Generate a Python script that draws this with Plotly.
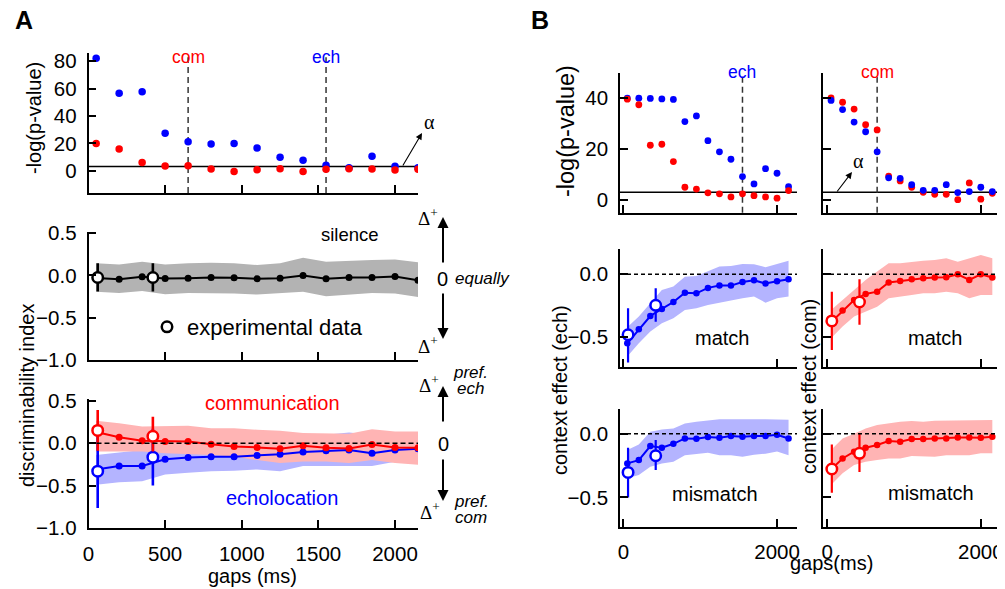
import plotly.graph_objects as go

W, H = 997, 581          # figure size (page body adds an 8px margin)
OFF = 8
def P(px): return (px - OFF) / W
def Q(py): return 1 - (py - OFF) / H

# ---------------- data ----------------
gaps = [50, 200, 350, 500, 650, 800, 950, 1100, 1250, 1400, 1550, 1700, 1850, 2000, 2150]
exp_gaps = [60, 420]
alpha_level = 3
thr_com_A, thr_ech_A = 650, 1550
thr_ech_B, thr_com_B = 1550, 650

# Panel A top: -log(p-value)
pA_ech = [82.2, 56.6, 57.6, 27.3, 21.2, 19.5, 19.8, 16.6, 9.8, 7.6, 3.9, 2.2, 10.5, 3.2, 2.2]
pA_com = [19.8, 15.9, 5.9, 3.4, 3.7, 1.2, -0.5, 0.7, 1.5, -0.5, 1.0, 1.5, 1.2, 0.5, 1.0]

# Panel A middle: silence
sil_model = [-0.03, -0.044, -0.016, -0.036, -0.032, -0.024, -0.028, -0.04, -0.032, 0.0, -0.04, -0.024, -0.024, -0.012, -0.056]
sil_hi = [0.143, 0.131, 0.163, 0.131, 0.143, 0.151, 0.143, 0.123, 0.143, 0.21, 0.163, 0.175, 0.183, 0.19, 0.155]
sil_lo = [-0.194, -0.206, -0.183, -0.222, -0.206, -0.206, -0.214, -0.226, -0.206, -0.194, -0.246, -0.222, -0.206, -0.214, -0.254]
sil_exp = [-0.024, -0.024]
sil_exp_hi = [0.143, 0.143]
sil_exp_lo = [-0.19, -0.19]

# Panel A bottom: communication / echolocation
com_model = [0.13, 0.07, 0.027, 0.02, 0.02, -0.012, -0.04, -0.05, -0.067, -0.03, -0.055, -0.063, -0.016, -0.05, -0.055]
com_hi = [0.263, 0.235, 0.196, 0.196, 0.204, 0.176, 0.176, 0.157, 0.145, 0.118, 0.11, 0.11, 0.165, 0.137, 0.137]
com_lo = [-0.1, -0.1, -0.1, -0.12, -0.13, -0.14, -0.157, -0.2, -0.235, -0.216, -0.216, -0.235, -0.2, -0.235, -0.255]
ech_model = [-0.31, -0.27, -0.27, -0.19, -0.17, -0.16, -0.16, -0.145, -0.13, -0.105, -0.09, -0.08, -0.12, -0.08, -0.067]
ech_hi = [-0.14, -0.11, -0.08, -0.05, -0.03, -0.02, 0.0, 0.02, 0.05, 0.08, 0.1, 0.125, 0.1, 0.1, 0.1]
ech_lo = [-0.49, -0.46, -0.45, -0.37, -0.35, -0.33, -0.325, -0.31, -0.33, -0.27, -0.27, -0.27, -0.27, -0.22, -0.2]
com_exp = [0.15, 0.08]
com_exp_hi = [0.39, 0.31]
com_exp_lo = [-0.09, -0.1]
ech_exp = [-0.33, -0.165]
ech_exp_hi = [0.105, 0.17]
ech_exp_lo = [-0.765, -0.5]

# Panel B top: -log(p-value)
pB_ech_L = [40, 40, 39.9, 39.7, 39.5, 30.8, 33, 23.3, 18.9, 16, 9.2, 6.3, 12.3, 10.5, 5.2]
pB_com_L = [39.6, 37.4, 21.5, 21.9, 15.1, 5.0, 4.3, 2.8, 2.4, 1.2, 2.4, 1.7, 1.2, 0.7, 3.7]
pB_ech_R = [39.1, 35.5, 30.6, 26.8, 18.9, 8.7, 8.5, 6.0, 3.8, 3.8, 6.0, 2.9, 3.3, 5.0, 3.3]
pB_com_R = [40.1, 38.4, 35.7, 29.6, 27.5, 9.4, 7.5, 5.0, 3.0, 2.2, 2.2, 0.1, 6.7, 0.3, 2.6]

# Panel B match
ech_match = [-0.548, -0.437, -0.331, -0.275, -0.22, -0.146, -0.151, -0.108, -0.09, -0.09, -0.061, -0.048, -0.074, -0.056, -0.04]
ech_match_hi = [-0.42, -0.336, -0.23, -0.124, -0.098, -0.019, -0.013, 0.021, 0.061, 0.066, 0.082, 0.079, 0.056, 0.082, 0.108]
ech_match_lo = [-0.653, -0.548, -0.455, -0.389, -0.349, -0.283, -0.27, -0.243, -0.23, -0.209, -0.19, -0.177, -0.225, -0.19, -0.177]
ech_match_exp = [-0.48, -0.246]
ech_match_exp_hi = [-0.27, -0.11]
ech_match_exp_lo = [-0.70, -0.376]

com_match = [-0.38, -0.288, -0.204, -0.156, -0.138, -0.066, -0.053, -0.04, -0.032, -0.026, -0.024, 0.0, -0.045, 0.0, -0.026]
com_match_hi = [-0.283, -0.204, -0.124, -0.045, 0.021, 0.087, 0.087, 0.1, 0.108, 0.114, 0.127, 0.1, 0.127, 0.153, 0.127]
com_match_lo = [-0.508, -0.415, -0.336, -0.296, -0.257, -0.19, -0.177, -0.164, -0.151, -0.151, -0.138, -0.151, -0.19, -0.164, -0.164]
com_match_exp = [-0.37, -0.22]
com_match_exp_hi = [-0.138, -0.04]
com_match_exp_lo = [-0.60, -0.40]

# Panel B mismatch
ech_mis = [-0.233, -0.207, -0.097, -0.11, -0.079, -0.037, -0.039, -0.026, -0.031, -0.018, -0.024, -0.018, -0.018, -0.008, -0.037]
ech_mis_hi = [-0.128, -0.084, 0.016, 0.034, 0.042, 0.081, 0.094, 0.102, 0.113, 0.113, 0.115, 0.113, 0.113, 0.113, 0.11]
ech_mis_lo = [-0.35, -0.325, -0.26, -0.233, -0.22, -0.168, -0.16, -0.15, -0.168, -0.168, -0.18, -0.165, -0.157, -0.14, -0.168]
ech_mis_exp = [-0.304, -0.173]
ech_mis_exp_hi = [-0.11, -0.05]
ech_mis_exp_lo = [-0.5, -0.285]

com_mis = [-0.28, -0.194, -0.141, -0.11, -0.089, -0.058, -0.063, -0.042, -0.042, -0.037, -0.037, -0.029, -0.029, -0.031, -0.024]
com_mis_hi = [-0.128, -0.037, 0.0, 0.042, 0.068, 0.081, 0.094, 0.1, 0.094, 0.102, 0.102, 0.107, 0.102, 0.107, 0.107]
com_mis_lo = [-0.403, -0.31, -0.246, -0.22, -0.207, -0.194, -0.194, -0.175, -0.175, -0.18, -0.168, -0.168, -0.168, -0.154, -0.154]
com_mis_exp = [-0.277, -0.154]
com_mis_exp_hi = [-0.084, 0.0]
com_mis_exp_lo = [-0.463, -0.3]

# ---------------- style ----------------
RED, BLUE, BLACK = '#ff0000', '#0000ff', '#000000'
PINK, LAV, GRAY = '#ffb4b4', '#b4b4ff', '#b3b3b3'
FONT = 'Liberation Sans, Arial, sans-serif'
SERIF = 'Liberation Serif, Times New Roman, serif'
TICK = 20.5

fig = go.Figure()

def band(x, hi, lo, color, xa, ya):
    fig.add_trace(go.Scatter(x=x + x[::-1], y=hi + lo[::-1], fill='toself', fillcolor=color,
                             line=dict(width=0, color=color), mode='lines', hoverinfo='skip',
                             showlegend=False, xaxis=xa, yaxis=ya))

def model(x, y, color, xa, ya, ms=7, lw=2):
    fig.add_trace(go.Scatter(x=x, y=y, mode='lines+markers', line=dict(color=color, width=lw),
                             marker=dict(size=ms, color=color), showlegend=False, xaxis=xa, yaxis=ya))

def expt(x, y, hi, lo, color, xa, ya, thick=2.6, name=None, leg=False):
    fig.add_trace(go.Scatter(x=x, y=y, mode='markers', name=name, showlegend=leg,
                             marker=dict(size=10.5, color='white', line=dict(color=color, width=2.5)),
                             error_y=dict(type='data', symmetric=False,
                                          array=[h - v for h, v in zip(hi, y)],
                                          arrayminus=[v - l for l, v in zip(lo, y)],
                                          color=color, thickness=thick, width=0),
                             xaxis=xa, yaxis=ya))

def pts(x, y, color, xa, ya, ms=7):
    fig.add_trace(go.Scatter(x=x, y=y, mode='markers', marker=dict(size=ms, color=color),
                             showlegend=False, xaxis=xa, yaxis=ya))

# A top
pts(gaps, pA_ech, BLUE, 'x', 'y', 7.5)
pts(gaps, pA_com, RED, 'x', 'y', 7.5)
# A middle
band(gaps, sil_hi, sil_lo, GRAY, 'x2', 'y2')
model(gaps, sil_model, BLACK, 'x2', 'y2')
expt(exp_gaps, sil_exp, sil_exp_hi, sil_exp_lo, BLACK, 'x2', 'y2', name='experimental data', leg=True)
# A bottom
band(gaps, ech_hi, ech_lo, LAV, 'x3', 'y3')
band(gaps, com_hi, com_lo, PINK, 'x3', 'y3')
model(gaps, ech_model, BLUE, 'x3', 'y3')
model(gaps, com_model, RED, 'x3', 'y3')
expt(exp_gaps, ech_exp, ech_exp_hi, ech_exp_lo, BLUE, 'x3', 'y3')
expt(exp_gaps, com_exp, com_exp_hi, com_exp_lo, RED, 'x3', 'y3')
# B top
pts(gaps, pB_ech_L, BLUE, 'x4', 'y4', 6.8)
pts(gaps, pB_com_L, RED, 'x4', 'y4', 6.8)
pts(gaps, pB_com_R, RED, 'x5', 'y5', 6.8)
pts(gaps, pB_ech_R, BLUE, 'x5', 'y5', 6.8)
# B match
band(gaps, ech_match_hi, ech_match_lo, LAV, 'x6', 'y6')
model(gaps, ech_match, BLUE, 'x6', 'y6', 6.5)
expt(exp_gaps, ech_match_exp, ech_match_exp_hi, ech_match_exp_lo, BLUE, 'x6', 'y6', 2.2)
band(gaps, com_match_hi, com_match_lo, PINK, 'x7', 'y7')
model(gaps, com_match, RED, 'x7', 'y7', 6.5)
expt(exp_gaps, com_match_exp, com_match_exp_hi, com_match_exp_lo, RED, 'x7', 'y7', 2.2)
# B mismatch
band(gaps, ech_mis_hi, ech_mis_lo, LAV, 'x8', 'y8')
model(gaps, ech_mis, BLUE, 'x8', 'y8', 6.5)
expt(exp_gaps, ech_mis_exp, ech_mis_exp_hi, ech_mis_exp_lo, BLUE, 'x8', 'y8', 2.2)
band(gaps, com_mis_hi, com_mis_lo, PINK, 'x9', 'y9')
model(gaps, com_mis, RED, 'x9', 'y9', 6.5)
expt(exp_gaps, com_mis_exp, com_mis_exp_hi, com_mis_exp_lo, RED, 'x9', 'y9', 2.2)

# ---------------- axes ----------------
def axis(domain, rng, anchor, tickvals, labels=True, fmt=None, standoff=6):
    d = dict(domain=domain, range=rng, anchor=anchor, showline=True, linecolor='black', linewidth=1.7,
             ticks='inside', ticklen=8, tickwidth=1.7, tickcolor='black', showgrid=False, zeroline=False,
             tickvals=tickvals, showticklabels=labels, tickfont=dict(family=FONT, size=TICK, color='black'),
             ticklabelstandoff=standoff, fixedrange=True)
    if fmt:
        d['tickformat'] = fmt
    return d

xA = [P(88.5), P(418)]
xBL = [P(620), P(797)]
xBR = [P(823), P(1000)]
rA = [0, 2150]
rBL = [-45, 2260]
rBR = [-55, 2250]

lay = {}
lay['xaxis'] = axis(xA, rA, 'y', [500, 1000, 1500, 2000], False)
lay['yaxis'] = axis([Q(193), Q(53)], [-16.3, 86], 'x', [0, 20, 40, 60, 80])
lay['xaxis2'] = axis(xA, rA, 'y2', [500, 1000, 1500, 2000], False)
lay['yaxis2'] = axis([Q(360), Q(231.5)], [-1.0, 0.52], 'x2', [-1, -0.5, 0, 0.5], fmt='.1f')
lay['xaxis3'] = axis(xA, rA, 'y3', [0, 500, 1000, 1500, 2000], True, standoff=7)
lay['yaxis3'] = axis([Q(528), Q(399)], [-1.0, 0.52], 'x3', [-1, -0.5, 0, 0.5], fmt='.1f')
lay['xaxis4'] = axis(xBL, rBL, 'y4', [0, 2000], False)
lay['yaxis4'] = axis([Q(212.7), Q(72.7)], [-5, 50], 'x4', [0, 20, 40])
lay['xaxis5'] = axis(xBR, rBR, 'y5', [0, 2000], False)
lay['yaxis5'] = axis([Q(212.7), Q(72.7)], [-5, 50], 'x5', [0, 20, 40], False)
lay['xaxis6'] = axis(xBL, rBL, 'y6', [0, 2000], False)
lay['yaxis6'] = axis([Q(367.3), Q(249.3)], [-0.738, 0.198], 'x6', [-0.5, 0], fmt='.1f')
lay['xaxis7'] = axis(xBR, rBR, 'y7', [0, 2000], False)
lay['yaxis7'] = axis([Q(367.3), Q(249.3)], [-0.738, 0.198], 'x7', [-0.5, 0], False)
lay['xaxis8'] = axis(xBL, rBL, 'y8', [0, 2000], True, standoff=5)
lay['yaxis8'] = axis([Q(527.3), Q(409.3)], [-0.735, 0.192], 'x8', [-0.5, 0], fmt='.1f')
lay['xaxis9'] = axis(xBR, rBR, 'y9', [0, 2000], True, standoff=5)
lay['yaxis9'] = axis([Q(527.3), Q(409.3)], [-0.735, 0.192], 'x9', [-0.5, 0], False)

# ---------------- shapes ----------------
shapes = []
def hline(xa, ya, y, dash='solid', width=1.5, layer='below'):
    shapes.append(dict(type='line', xref=f'{xa} domain', yref=ya, x0=0, x1=1, y0=y, y1=y,
                       line=dict(color='black', width=width, dash=dash), layer=layer))
def vline(xa, ya, x, y1=1.0):
    shapes.append(dict(type='line', xref=xa, yref=f'{ya} domain', x0=x, x1=x, y0=0, y1=y1,
                       line=dict(color='#333333', width=1.5, dash='6px,4px'), layer='below'))

hline('x', 'y', alpha_level)
vline('x', 'y', thr_com_A, 0.97)
vline('x', 'y', thr_ech_A, 0.97)
hline('x3', 'y3', 0, dash='5px,3px', width=1.5, layer='above')
hline('x4', 'y4', alpha_level)
hline('x5', 'y5', alpha_level)
vline('x4', 'y4', thr_ech_B)
vline('x5', 'y5', thr_com_B)
for a in ['6', '7', '8', '9']:
    hline('x' + a, 'y' + a, 0, dash='4px,3px', width=1.3, layer='above')

# ---------------- annotations ----------------
anns = []
def txt(text, px, py, size=20, color='black', italic=False, bold=False, family=FONT, angle=0,
        xanchor='center', yanchor='middle'):
    t = text
    if italic:
        t = f'<i>{t}</i>'
    if bold:
        t = f'<b>{t}</b>'
    anns.append(dict(text=t, x=P(px), y=Q(py), xref='paper', yref='paper', showarrow=False,
                     font=dict(family=family, size=size, color=color), textangle=angle,
                     xanchor=xanchor, yanchor=yanchor))

def arrow(hx, hy, tx, ty, width=2, head=2, size=1.1):
    anns.append(dict(text='', x=P(hx), y=Q(hy), xref='paper', yref='paper', showarrow=True,
                     ax=tx - hx, ay=ty - hy, axref='pixel', ayref='pixel', arrowhead=head,
                     arrowsize=size, arrowwidth=width, arrowcolor='black', standoff=0, startstandoff=0))

txt('A', 24, 20, 25, bold=True)
txt('B', 540, 20, 25, bold=True)
# A top
anns.append(dict(text='com', x=thr_com_A, y=Q(45), xref='x', yref='paper', showarrow=False,
                 font=dict(family=FONT, size=17.5, color=RED)))
anns.append(dict(text='ech', x=thr_ech_A, y=Q(45), xref='x', yref='paper', showarrow=False,
                 font=dict(family=FONT, size=17.5, color=BLUE)))
arrow(422, 133, 402, 167, width=1.1, head=2, size=1.2)
txt('α', 429, 122, 20, family=SERIF)
txt('-log(p-value)', 34, 118, 20, angle=-90)
# A middle
txt('silence', 350, 235, 18.5)
txt('Δ<sup>+</sup>', 428, 217, 19, family=SERIF)
txt('Δ<sup>+</sup>', 428, 345, 19, family=SERIF)
arrow(443, 217, 443, 264)
arrow(443, 339, 443, 292)
txt('0', 442, 279, 20)
txt('equally', 482, 278, 17, italic=True)
txt('discriminability index', 27, 396, 20, angle=-90)
# A bottom
txt('communication', 272, 403, 20, RED)
txt('echolocation', 282, 498, 20, BLUE)
txt('gaps (ms)', 252, 576, 20)
txt('Δ<sup>+</sup>', 429, 384, 19, family=SERIF)
txt('Δ<sup>+</sup>', 430, 511, 19, family=SERIF)
arrow(443, 386, 443, 423)
arrow(443, 501, 443, 458)
txt('0', 443, 444, 20)
txt('pref.', 470, 372, 17, italic=True)
txt('ech', 470, 388, 17, italic=True)
txt('pref.', 471, 501, 17, italic=True)
txt('com', 471, 517, 17, italic=True)
# B
anns.append(dict(text='ech', x=thr_ech_B, y=Q(60), xref='x4', yref='paper', showarrow=False,
                 font=dict(family=FONT, size=17.5, color=BLUE)))
anns.append(dict(text='com', x=thr_com_B, y=Q(60), xref='x5', yref='paper', showarrow=False,
                 font=dict(family=FONT, size=17.5, color=RED)))
arrow(852, 172, 836, 193, width=1.1, head=2, size=1.2)
txt('α', 858, 161, 20, family=SERIF)
txt('-log(p-value)', 566, 131, 23.5, angle=-90)
txt('match', 722, 338, 20)
txt('match', 935, 338, 20)
txt('mismatch', 715, 494, 20)
txt('mismatch', 931, 493, 20)
txt('context effect (ech)', 560, 390, 20, angle=-90)
txt('context effect (com)', 809, 387, 20, angle=-90)
txt('gaps(ms)', 831, 563, 20)

fig.update_layout(
    width=W, height=H, margin=dict(l=0, r=0, t=0, b=0, pad=0),
    paper_bgcolor='white', plot_bgcolor='white', template='none',
    font=dict(family=FONT, size=19, color='black'),
    showlegend=True,
    legend=dict(x=P(147), y=Q(327), xanchor='left', yanchor='middle', bgcolor='rgba(0,0,0,0)',
                borderwidth=0, font=dict(family=FONT, size=22, color='black'), itemwidth=30),
    shapes=shapes, annotations=anns, **lay)

fig.write_html('out.html')
